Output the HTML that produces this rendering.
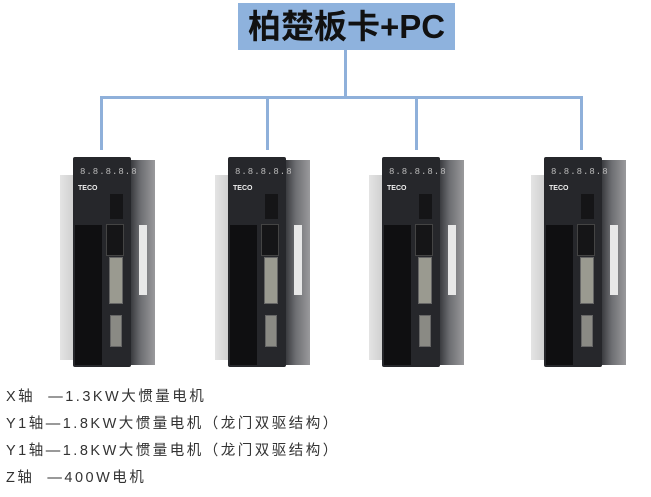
<!DOCTYPE html>
<html><head><meta charset="utf-8"><style>
body{margin:0;width:651px;height:497px;background:#fff;position:relative;overflow:hidden;font-family:"Liberation Sans","Noto Sans CJK SC",sans-serif}
.a{position:absolute}
.title{left:238px;top:3px;width:217px;height:47px;background:#8eb2dd;font-weight:bold;font-size:33px;line-height:47px;text-align:center;color:#111;font-family:"Liberation Sans","Noto Sans CJK SC",sans-serif}
.ln{position:absolute;background:#8fb0da}
.d{position:absolute;top:150px;width:100px;height:222px}
.back{left:0;top:25px;width:14px;height:185px;background:linear-gradient(90deg,#e4e4e4,#cfcfcf)}
.front{left:13px;top:7px;width:58px;height:210px;background:#26272b;border-radius:2px}
.side{left:71px;top:10px;width:24px;height:205px;background:linear-gradient(90deg,#3a3b3f,#6d6e72 40%,#9a9a9c)}
.lab{left:79px;top:75px;width:8px;height:70px;background:#e8e8e8}
.disp{left:7px;top:9px;width:42px;height:12px;color:#bbb;font-size:9px;letter-spacing:1px;font-family:"Liberation Mono",monospace;line-height:12px}
.teco{left:5px;top:28px;color:#eee;font-size:7px;font-weight:bold}
.blk{left:2px;top:68px;width:27px;height:140px;background:#0f0f11}
.c1{left:37px;top:37px;width:13px;height:25px;background:#151517}
.c2{left:33px;top:67px;width:16px;height:30px;background:#151517;border:1px solid #444}
.db{left:36px;top:100px;width:12px;height:45px;background:#9a9a90;border:1px solid #666}
.db2{left:37px;top:158px;width:10px;height:30px;background:#8a8a84;border:1px solid #666}
.txt{left:6px;font-size:14.5px;color:#333;white-space:nowrap;line-height:20px;letter-spacing:2.5px}
</style></head><body>
<div class="a title">柏楚板卡+PC</div>
<div class="ln" style="left:344px;top:50px;width:3px;height:48px"></div>
<div class="ln" style="left:100px;top:96px;width:483px;height:3px"></div>
<div class="ln" style="left:100px;top:96px;width:3px;height:54px"></div>
<div class="ln" style="left:266px;top:96px;width:3px;height:54px"></div>
<div class="ln" style="left:415px;top:96px;width:3px;height:54px"></div>
<div class="ln" style="left:580px;top:96px;width:3px;height:54px"></div>

<div class="d" style="left:60px"><div class="a back"></div><div class="a side"></div><div class="a lab"></div><div class="a front"><div class="a disp">8.8.8.8.8</div><div class="a teco">TECO</div><div class="a blk"></div><div class="a c1"></div><div class="a c2"></div><div class="a db"></div><div class="a db2"></div></div></div>
<div class="d" style="left:215px"><div class="a back"></div><div class="a side"></div><div class="a lab"></div><div class="a front"><div class="a disp">8.8.8.8.8</div><div class="a teco">TECO</div><div class="a blk"></div><div class="a c1"></div><div class="a c2"></div><div class="a db"></div><div class="a db2"></div></div></div>
<div class="d" style="left:369px"><div class="a back"></div><div class="a side"></div><div class="a lab"></div><div class="a front"><div class="a disp">8.8.8.8.8</div><div class="a teco">TECO</div><div class="a blk"></div><div class="a c1"></div><div class="a c2"></div><div class="a db"></div><div class="a db2"></div></div></div>
<div class="d" style="left:531px"><div class="a back"></div><div class="a side"></div><div class="a lab"></div><div class="a front"><div class="a disp">8.8.8.8.8</div><div class="a teco">TECO</div><div class="a blk"></div><div class="a c1"></div><div class="a c2"></div><div class="a db"></div><div class="a db2"></div></div></div>

<div class="a txt" style="top:387px">X轴 &nbsp;—1.3KW大惯量电机</div>
<div class="a txt" style="top:414px">Y1轴—1.8KW大惯量电机（龙门双驱结构）</div>
<div class="a txt" style="top:441px">Y1轴—1.8KW大惯量电机（龙门双驱结构）</div>
<div class="a txt" style="top:468px">Z轴 &nbsp;—400W电机</div>
</body></html>
